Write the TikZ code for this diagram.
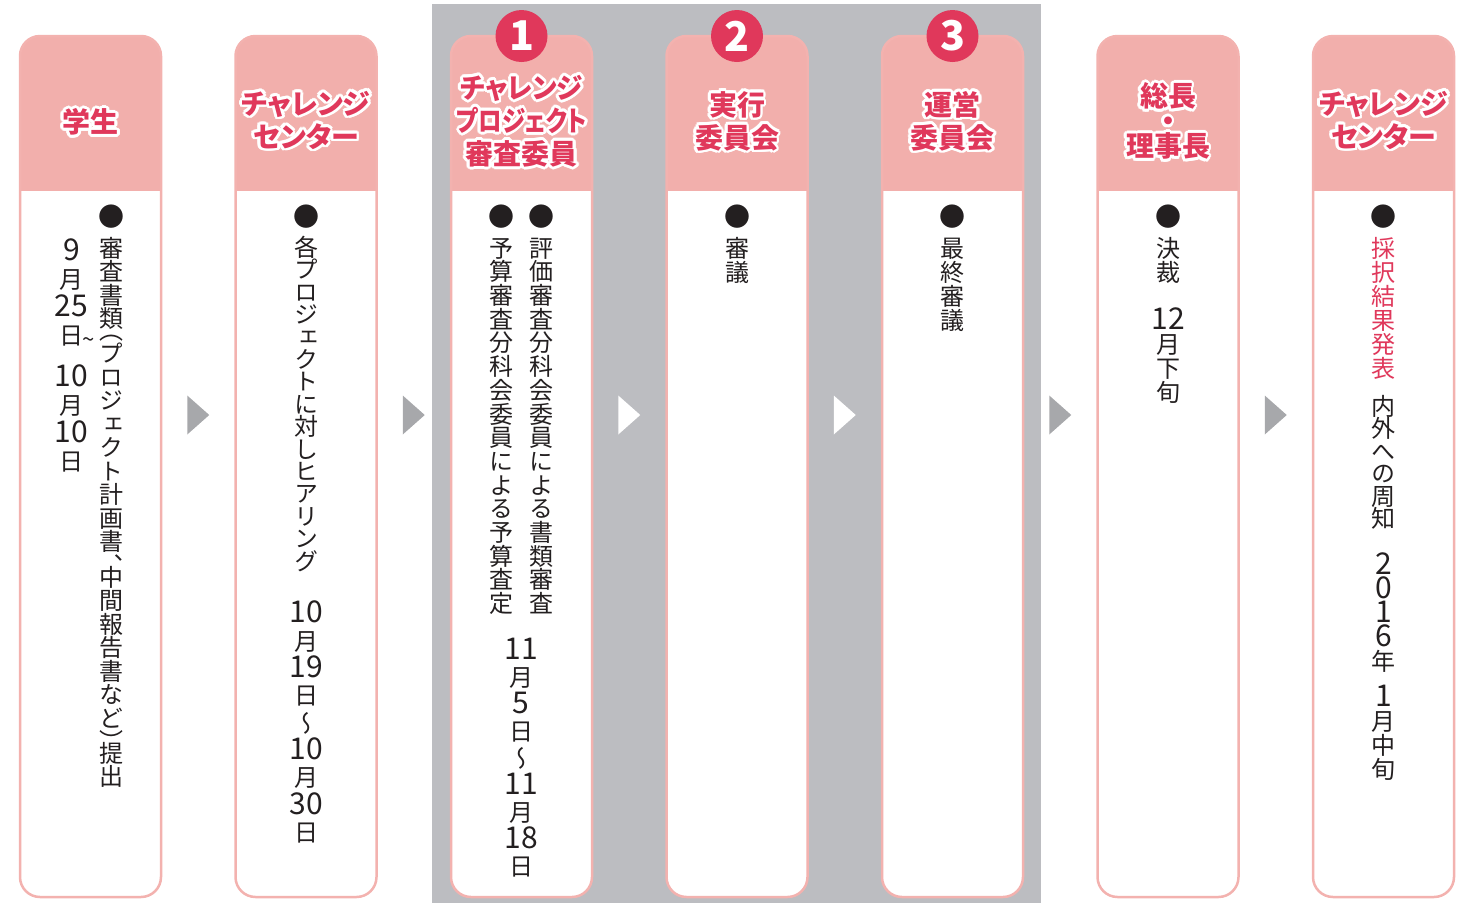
\documentclass[tikz,border=0pt]{standalone}
\usepackage{fontspec}
\usepackage{graphicx}
\usetikzlibrary{calc}
\newfontfamily\jp[RawFeature=+vert]{Noto Sans CJK JP}
\newfontfamily\jph[RawFeature=+palt]{Noto Sans CJK JP}
\definecolor{hdr}{HTML}{F2AFAC}
\definecolor{bdr}{HTML}{F3B2AF}
\definecolor{rd}{HTML}{E0385B}
\definecolor{band}{HTML}{BCBDC1}
\definecolor{arr}{HTML}{A7A8AB}
\definecolor{ink}{HTML}{231F20}
\makeatletter
\newdimen\vtp
\newbox\vtbox
\def\vt@mode{0}
\newcommand\vo[1]{\gdef\vt@mode{1}#1}
\newcommand\vc[1]{\gdef\vt@mode{2}#1}
\def\vt@cell{%
  \gdef\vt@mode{0}%
  \setbox\vtbox\hbox{{\vt@c}}%
  \ifcase\vt@mode\relax
    \hbox to 44pt{\hss\vrule width0pt height\vtp depth0pt\raisebox{\dimexpr\vtp/2-0.38em\relax}[0pt][0pt]{\box\vtbox}\hss}%
  \or
    \hbox to 44pt{\hss\vrule width0pt height\dimexpr\vtp/2\relax depth0pt\raisebox{0.12em}[0pt][0pt]{\box\vtbox}\hss}%
  \or
    \hbox to 44pt{\hss\vrule width0pt height\dimexpr\vtp/2\relax depth0pt\raisebox{\dimexpr\vtp/2-0.88em\relax}[0pt][0pt]{\box\vtbox}\hss}%
  \fi}
\newcommand\vt[2][24pt]{\vbox{\offinterlineskip\vtp=#1\relax\@tfor\vt@c:=#2\do{\vt@cell}}}
\makeatother
\newcommand\dg[1]{{\fontsize{30pt}{30pt}\selectfont#1}}
\newbox\hlw
\newbox\hlr
\newcommand\hloff[2]{\rlap{\kern#1pt\raise#2pt\copy\hlw}}
\newcommand\hl[1]{\leavevmode\setbox\hlw\hbox{{\color{white}#1}}\setbox\hlr\hbox{{#1}}%
  \hbox{\hloff{2.8}{0}\hloff{2.59}{1.07}\hloff{1.98}{1.98}\hloff{1.07}{2.59}%
        \hloff{0}{2.8}\hloff{-1.07}{2.59}\hloff{-1.98}{1.98}\hloff{-2.59}{1.07}%
        \hloff{-2.8}{0}\hloff{-2.59}{-1.07}\hloff{-1.98}{-1.98}\hloff{-1.07}{-2.59}%
        \hloff{0}{-2.8}\hloff{1.07}{-2.59}\hloff{1.98}{-1.98}\hloff{2.59}{-1.07}%
        \box\hlr}}
\begin{document}
\begin{tikzpicture}[x=1pt,y=-1pt,
  card/.style={draw=bdr, line width=2.5pt, fill=white, rounded corners=20pt,
    minimum width=141pt, minimum height=861pt, inner sep=0,
    path picture={\fill[hdr, sharp corners] (path picture bounding box.north west) rectangle ([yshift=-155pt]path picture bounding box.north east);}},
  hd/.style={align=center, inner sep=0, text=rd, font=\jph\bfseries\fontsize{28pt}{33pt}\selectfont},
  num/.style={circle, fill=rd, minimum size=52pt, inner sep=0, text=white, font=\jph\bfseries\fontsize{41pt}{41pt}\selectfont},
  txt/.style={inner sep=0, anchor=north, text=ink, font=\jp\fontsize{24pt}{24pt}\selectfont},
  bul/.style={inner sep=0, text=ink, font=\jp\fontsize{26pt}{26pt}\selectfont},
]
\useasboundingbox (0,0) rectangle (1472,903);
\fill[band] (432,4) rectangle (1041,903);
% cards
\node[card] (c1) at (90.5,466.5) {};
\node[card] (c2) at (306,466.5) {};
\node[card] (c3) at (521.5,466.5) {};
\node[card] (c4) at (737,466.5) {};
\node[card] (c5) at (952.5,466.5) {};
\node[card] (c6) at (1168,466.5) {};
\node[card] (c7) at (1383.5,466.5) {};
% arrows
\foreach \i/\j/\c in {1/2/arr,2/3/arr,3/4/white,4/5/white,5/6/arr,6/7/arr}{
  \coordinate (m\i) at ($(c\i.east)!.5!(c\j.west)+(0,-51.5)$);
  \fill[\c] ($(m\i)+(-11,-19.5)$) -- ($(m\i)+(11,0)$) -- ($(m\i)+(-11,19.5)$) -- cycle;
}
% number circles
\node[num] (n1) at (521.5,36) {1};
\node[num] (n2) at (737,36) {2};
\node[num] (n3) at (952.5,36) {3};
% headers
\node[hd] (h1) at (90.5,122) {\hl{学生}};
\node[hd] (h2) at (306,120) {\hl{チャレンジ}\\\hl{センター}};
\node[hd] (h3) at (521.5,121) {\hl{\scalebox{0.95}[1]{チャレンジ}}\\\hl{\scalebox{0.84}[1]{プロジェクト}}\\\hl{審査委員}};
\node[hd] (h4) at (737,121) {\hl{実行}\\\hl{委員会}};
\node[hd] (h5) at (952.5,121) {\hl{運営}\\\hl{委員会}};
\node[hd] (h6) at (1168,121) {\hl{総長}\\[-8pt]\hl{・}\\[-8pt]\hl{理事長}};
\node[hd] (h7) at (1383.5,120) {\hl{チャレンジ}\\\hl{センター}};
% card 1
\node[bul] (b1) at (111.5,217) {●};
\node[txt] (t1) at (111.5,236) {\vt[23.5pt]{審 査 書 類 {\vo{（}} プ ロ ジ ェ ク ト 計 画 書 {\vc{、}} 中 間 報 告 書 な ど {\vc{）}} 提 出}};
\node[txt] (d1) at (71.5,237) {\vt[28pt]{{\dg{9}} 月 {\dg{25}} {日\rlap{\kern-1pt\raisebox{-3pt}{\fontsize{22pt}{22pt}\selectfont\textasciitilde}}} {\vc{}} {\dg{10}} 月 {\dg{10}} 日}};
% card 2
\node[bul] (b2) at (306,217) {●};
\node[txt] (t2) at (306,236) {\vt[22.4pt]{各 プ ロ ジ ェ ク ト に 対 し ヒ ア リ ン グ}};
\node[txt] (d2) at (306,600) {\vt[27.3pt]{{\dg{10}} 月 {\dg{19}} 日 〜 {\dg{10}} 月 {\dg{30}} 日}};
% card 3
\node[bul] (b3a) at (541.5,217) {●};
\node[bul] (b3b) at (501.5,217) {●};
\node[txt] (t3a) at (541.5,236) {\vt[23.7pt]{評 価 審 査 分 科 会 委 員 に よ る 書 類 審 査}};
\node[txt] (t3b) at (501.5,236) {\vt[23.7pt]{予 算 審 査 分 科 会 委 員 に よ る 予 算 査 定}};
\node[txt] (d3) at (521,637) {\vt[27pt]{{\dg{11}} 月 {\dg{5}} 日 〜 {\dg{11}} 月 {\dg{18}} 日}};
% card 4
\node[bul] (b4) at (737,217) {●};
\node[txt] (t4) at (737,236) {\vt[24pt]{審 議}};
% card 5
\node[bul] (b5) at (952.5,217) {●};
\node[txt] (t5) at (952.5,236) {\vt[24pt]{最 終 審 議}};
% card 6
\node[bul] (b6) at (1168,217) {●};
\node[txt] (t6) at (1168,236) {\vt[24pt]{決 裁 {} {\dg{12}} 月 下 旬}};
% card 7
\node[bul] (b7) at (1383.5,217) {●};
\node[txt, text=rd] (t7r) at (1383.5,236) {\vt[24pt]{採 択 結 果 発 表}};
\node[txt] (t7) at (1383.5,395) {\vt[22.4pt]{内 外 へ の 周 知}};
\node[txt] (d7) at (1383.5,553) {\vt[24pt]{{\dg{2}} {\dg{0}} {\dg{1}} {\dg{6}} 年 {\vc{}} {\dg{1}} 月 中 旬}};
\end{tikzpicture}
\end{document}
